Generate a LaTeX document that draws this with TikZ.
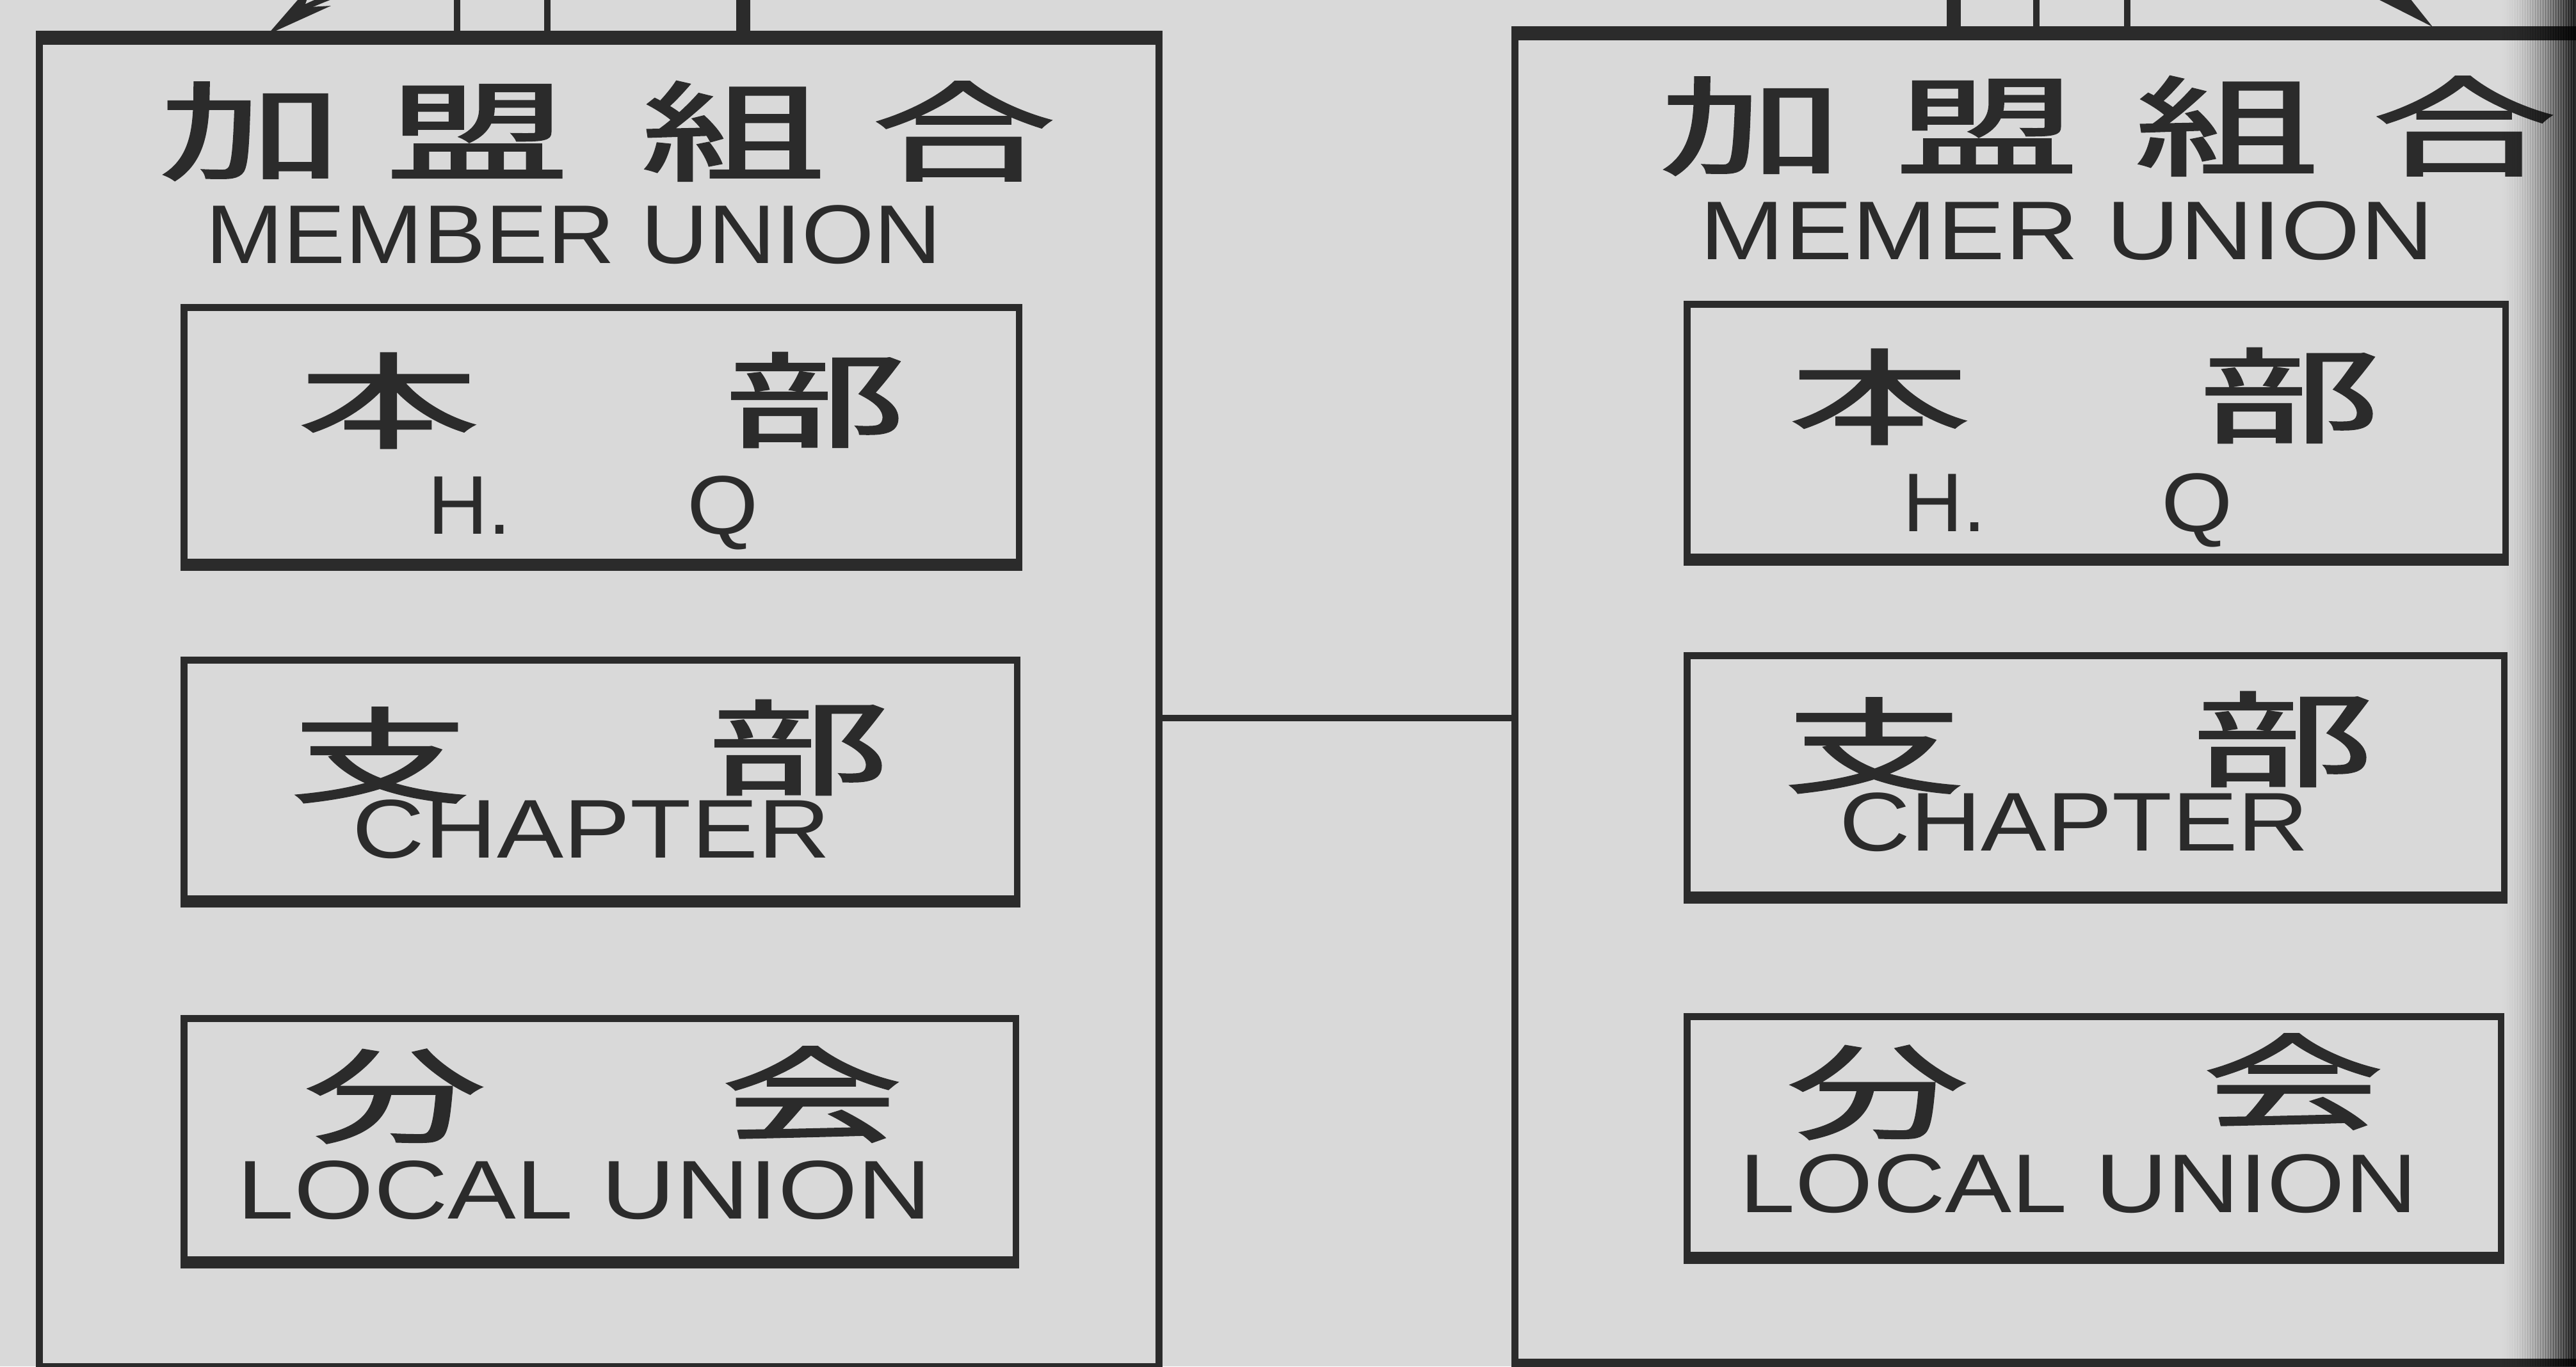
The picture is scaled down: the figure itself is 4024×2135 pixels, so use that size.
\documentclass[tikz,border=0pt]{standalone}
\usepackage{fontspec}
\setmainfont{Liberation Sans}
\newfontfamily\cjk{Noto Sans CJK JP}[FakeBold=1.5]
\usetikzlibrary{arrows.meta,calc}
\definecolor{paper}{HTML}{D9D9D9}
\definecolor{ink}{HTML}{2B2B2B}
\begin{document}
\begin{tikzpicture}[x=0.01cm,y=-0.01cm,
  bigbox/.style={draw=ink,line width=3pt,rectangle,inner sep=0pt,anchor=north west},
  unitbox/.style={draw=ink,line width=3pt,rectangle,inner sep=0pt,anchor=north west},
  kanji/.style={font=\cjk\fontsize{46}{46}\selectfont,text=ink,xscale=1.75,inner sep=0pt},
  titlekanji/.style={font=\cjk\fontsize{48}{48}\selectfont,text=ink,xscale=1.7,inner sep=0pt},
  latin/.style={font=\fontsize{37}{37}\selectfont,text=ink,inner sep=0pt,anchor=base},
  conn/.style={draw=ink,line width=3pt},
  thinlink/.style={draw=ink,line width=2.6pt},
  thicklink/.style={draw=ink,line width=6pt},
  arrowlink/.style={draw=ink,line width=2.6pt,-{Stealth[length=30pt,width=13pt]}},
  thickedge/.style={draw=ink,line width=6pt},
  baseedge/.style={draw=ink,line width=4.5pt}
]
\useasboundingbox (0,0) rectangle (4024,2135);
\clip (0,0) rectangle (4024,2135);
\fill[paper] (0,0) rectangle (4024,2135);

% big boxes
\node[bigbox,minimum width=17.48cm,minimum height=20.70cm] (mu1) at (56,59) {};
\node[bigbox,minimum width=18.00cm,minimum height=20.70cm] (mu2) at (2361,52) {};
\draw[thickedge] (mu1.north west) -- (mu1.north east);
\draw[thickedge] (mu2.north west) -- (mu2.north east);
\draw[baseedge] (mu1.south west) -- (mu1.south east);
\draw[baseedge] (mu2.south west) -- (mu2.south east);

% connector between the member unions
\coordinate (jy) at (0,1122);
\draw[conn] (mu1.east |- jy) -- (mu2.west |- jy);

% links above the boxes
\coordinate (t1) at (714,-20);
\coordinate (t2) at (855,-20);
\coordinate (t3) at (1161,-20);
\coordinate (t4) at (3052,-20);
\coordinate (t5) at (3181,-20);
\coordinate (t6) at (3323,-20);
\draw[thinlink] (t1) -- (mu1.north -| t1);
\draw[thinlink] (t2) -- (mu1.north -| t2);
\draw[thicklink] (t3) -- (mu1.north -| t3);
\draw[thicklink] (t4) -- (mu2.north -| t4);
\draw[thinlink] (t5) -- (mu2.north -| t5);
\draw[thinlink] (t6) -- (mu2.north -| t6);
\coordinate (a1) at (575,-25);
\coordinate (a1e) at (418,54);
\coordinate (a2) at (3680,-25);
\coordinate (a2e) at (3800,42);
\draw[arrowlink] (a1) to[bend right=10] (a1e);
\draw[arrowlink] (a2) to[bend left=10] (a2e);

% inner boxes
\node[unitbox,minimum width=13.04cm,minimum height=3.98cm] (hq1) at (282,475) {};
\node[unitbox,minimum width=13.01cm,minimum height=3.73cm] (ch1) at (282,1026) {};
\node[unitbox,minimum width=12.99cm,minimum height=3.77cm] (lu1) at (282,1586) {};
\node[unitbox,minimum width=12.78cm,minimum height=3.95cm] (hq2) at (2630,470) {};
\node[unitbox,minimum width=12.76cm,minimum height=3.74cm] (ch2) at (2630,1019) {};
\node[unitbox,minimum width=12.71cm,minimum height=3.73cm] (lu2) at (2630,1583) {};
\foreach \b in {hq1,ch1,lu1,hq2,ch2,lu2}{
  \draw[baseedge] (\b.south west) -- (\b.south east);
}

% titles
\node[titlekanji] (k1a) at (392,205) {加};
\node[titlekanji] (k1b) at (746,205) {盟};
\node[titlekanji] (k1c) at (1145,205) {組};
\node[titlekanji] (k1d) at (1505,205) {合};
\node[latin,xscale=1.12] (m1) at (896,411) {MEMBER UNION};
\node[titlekanji] (k2a) at (2736,197) {加};
\node[titlekanji] (k2b) at (3104,197) {盟};
\node[titlekanji] (k2c) at (3478,197) {組};
\node[titlekanji] (k2d) at (3849,197) {合};
\node[latin,xscale=1.22] (m2) at (3229,405) {MEMER UNION};

% left contents
\node[kanji] (h1a) at (607,626) {本};
\node[kanji] (h1b) at (1274,625) {部};
\node[latin] (h1c) at (734,834) {H.};
\node[latin,xscale=1.1] (h1d) at (1129,834) {Q};
\node[kanji] (c1a) at (594,1180) {支};
\node[kanji] (c1b) at (1248,1168) {部};
\node[latin,xscale=1.2] (c1c) at (924,1340) {CHAPTER};
\node[kanji] (l1a) at (617,1713) {分};
\node[kanji] (l1b) at (1268,1710) {会};
\node[latin,xscale=1.23] (l1c) at (913,1904) {LOCAL UNION};

% right contents
\node[kanji] (h2a) at (2936,620) {本};
\node[kanji] (h2b) at (3577,618) {部};
\node[latin] (h2c) at (3038,830) {H.};
\node[latin,xscale=1.1] (h2d) at (3432,830) {Q};
\node[kanji] (c2a) at (2928,1165) {支};
\node[kanji] (c2b) at (3567,1155) {部};
\node[latin,xscale=1.18] (c2c) at (3240,1329) {CHAPTER};
\node[kanji] (l2a) at (2933,1707) {分};
\node[kanji] (l2b) at (3582,1690) {会};
\node[latin,xscale=1.2] (l2c) at (3247,1894) {LOCAL UNION};

% darkened right edge of the sheet (stepped gradient)
\foreach \i in {0,...,31}{
  \pgfmathsetmacro{\op}{0.85*(\i/31)^2}
  \fill[black,opacity=\op] (3900+4*\i,0) rectangle (3904+4*\i+0.5,2135);
}
\end{tikzpicture}
\end{document}
